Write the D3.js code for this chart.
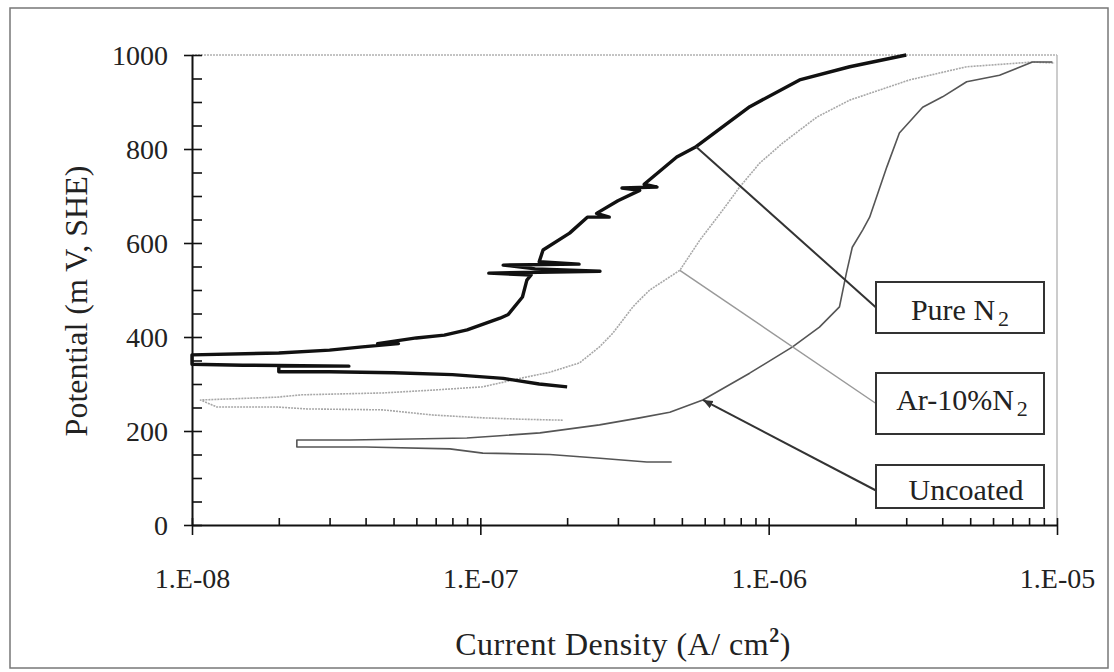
<!DOCTYPE html>
<html>
<head>
<meta charset="utf-8">
<script src="https://cdn.jsdelivr.net/npm/d3@7"></script>
<style>
  body { margin: 0; background: #fff; }
</style>
</head>
<body>
<div id="chart"></div>
<script>
// current density (A/cm2) and potential (mV SHE), cathodic branch first
const pureI = [2.0e-7, 1.6e-7, 1.2e-7, 8e-8, 5e-8, 3e-8, 2e-8, 2e-8, 3.5e-8, 1.5e-8, 1e-8,
  1e-8, 2.0e-8, 3.0e-8, 3.9e-8, 5.2e-8, 4.4e-8, 6.0e-8, 7.5e-8, 9.0e-8, 1.17e-7, 1.25e-7, 1.4e-7,
  1.45e-7, 1.5e-7, 1.07e-7, 2.6e-7, 1.55e-7, 1.2e-7, 2.2e-7, 1.6e-7, 1.65e-7, 2.04e-7, 2.35e-7,
  2.8e-7, 2.53e-7, 3.0e-7, 3.57e-7, 3.1e-7, 4.1e-7, 3.7e-7, 4.8e-7, 5.6e-7, 8.6e-7, 1.28e-6,
  1.91e-6, 3.0e-6];
const pureE = [294, 300, 312, 320, 324, 326, 326, 338, 338, 340, 342,
  362, 366, 372, 379, 386, 386, 398, 404, 415, 440, 448, 485,
  521, 532, 536, 540, 545, 553, 555, 560, 585, 621, 655,
  655, 663, 690, 712, 717, 719, 725, 783, 805, 890, 947,
  975, 1000];

const arI = [1.93e-7, 1.4e-7, 1.02e-7, 6.84e-8, 4.59e-8, 2.5e-8, 1.97e-8, 1.22e-8, 1.07e-8,
  1.97e-8, 2.4e-8, 4.59e-8, 6.84e-8, 1.02e-7, 1.4e-7, 1.74e-7, 2.21e-7, 2.59e-7, 2.88e-7,
  3.38e-7, 3.57e-7, 3.87e-7, 4.92e-7, 5.77e-7, 6.93e-7, 7.93e-7, 9.31e-7, 1.12e-6, 1.47e-6,
  1.91e-6, 3.08e-6, 4.86e-6, 8.22e-6, 9.8e-6];
const arE = [223, 225, 228, 234, 245, 247, 251, 251, 266,
  272, 277, 281, 287, 294, 313, 325, 345, 379, 408,
  464, 479, 500, 542, 606, 670, 719, 770, 813, 868,
  904, 947, 975, 985, 983];

const uncI = [4.61e-7, 3.78e-7, 2.6e-7, 1.74e-7, 1.02e-7, 7.84e-8, 4e-8, 2.31e-8,
  2.31e-8, 3.53e-8, 5.7e-8, 8.98e-8, 1.17e-7, 1.61e-7, 2.59e-7, 3.57e-7, 4.54e-7, 5.91e-7,
  8.59e-7, 1.21e-6, 1.5e-6, 1.76e-6, 1.86e-6, 1.95e-6, 2.12e-6, 2.24e-6, 2.57e-6, 2.84e-6,
  3.42e-6, 4.01e-6, 4.86e-6, 6.32e-6, 8.22e-6, 9.64e-6];
const uncE = [134, 134, 142, 150, 153, 162, 166, 166,
  181, 181, 183, 185, 190, 196, 213, 228, 240, 266,
  323, 379, 421, 464, 536, 591, 628, 655, 762, 834,
  889, 911, 943, 957, 985, 985];

const xTicks = [1e-8, 1e-7, 1e-6, 1e-5];
const xTickLabels = ["1.E-08", "1.E-07", "1.E-06", "1.E-05"];
const yTicks = [0, 200, 400, 600, 800, 1000];

// annotation points on each curve (current, potential)
const pureLabelPt = [5.6e-7, 805];
const arLabelPt = [4.92e-7, 542];
const uncLabelPt = [5.91e-7, 266];

const FONT = "Liberation Serif";

const W = 1114, H = 672;
const margin = {top: 55, right: 57, bottom: 147, left: 192};
const width = W - margin.left - margin.right,
      height = H - margin.top - margin.bottom;

const svg = d3.select("#chart").append("svg")
    .attr("width", W).attr("height", H);

svg.append("defs").append("marker")
    .attr("id", "arrow").attr("viewBox", "0 0 10 10")
    .attr("refX", 10).attr("refY", 5)
    .attr("markerWidth", 5).attr("markerHeight", 5)
    .attr("orient", "auto")
  .append("path").attr("d", "M0,1L10,5L0,9z").attr("fill", "#333");

// outer frame
svg.append("rect")
    .attr("x", 10).attr("y", 8).attr("width", 1098).attr("height", 660)
    .attr("fill", "none").attr("stroke", "#777").attr("stroke-width", 1.5);

const g = svg.append("g")
    .attr("transform", "translate(" + margin.left + "," + margin.top + ")");

const x = d3.scaleLog().domain([1e-8, 1e-5]).range([0, width]);
const y = d3.scaleLinear().domain([0, 1000]).range([height, 0]);

// plot area border (top / right)
g.append("line").attr("x1", 0).attr("x2", width).attr("y1", 0).attr("y2", 0)
    .attr("stroke", "#888").attr("stroke-width", 1).attr("stroke-dasharray", "2,1");
g.append("line").attr("x1", width).attr("x2", width).attr("y1", 0).attr("y2", height)
    .attr("stroke", "#bbb").attr("stroke-width", 1.5);

// y axis
const yMinor = d3.range(0, 1001, 50);
g.append("g")
    .call(d3.axisRight(y).tickValues(yMinor).tickSize(10).tickFormat(""))
    .call(a => a.select(".domain").remove());
const yAxis = g.append("g")
    .call(d3.axisLeft(y).tickValues(yTicks).tickSize(8).tickPadding(16)
      .tickFormat(d3.format("d")).tickSizeOuter(0));

// x axis
const xMinor = [];
xTicks.slice(0, 3).forEach(d => { for (let k = 2; k < 10; k++) xMinor.push(d * k); });
g.append("g")
    .attr("transform", "translate(0," + height + ")")
    .call(d3.axisTop(x).tickValues(xMinor.concat(xTicks)).tickSize(7).tickFormat(""))
    .call(a => a.select(".domain").remove());
const xAxis = g.append("g")
    .attr("transform", "translate(0," + height + ")")
    .call(d3.axisBottom(x).tickValues(xTicks).tickSize(10).tickPadding(33)
      .tickFormat((d, i) => xTickLabels[i]).tickSizeOuter(0));

g.selectAll(".tick text")
    .style("font-family", FONT)
    .style("font-size", "28px")
    .attr("fill", "#222");
yAxis.selectAll("text").attr("dy", "0.34em");

g.selectAll(".domain").attr("stroke", "#111").attr("stroke-width", 2);
g.selectAll(".tick line").attr("stroke", "#111").attr("stroke-width", 1.6);

// curves
const line = d3.line().x(d => x(d[0])).y(d => y(d[1]));
const series = [
  {I: arI, E: arE, color: "#a8a8a8", w: 1.6, dash: "2,1"},
  {I: uncI, E: uncE, color: "#555", w: 1.6, dash: null},
  {I: pureI, E: pureE, color: "#111", w: 3.4, dash: null}
];
series.forEach(s => {
  g.append("path")
      .datum(d3.zip(s.I, s.E))
      .attr("fill", "none")
      .attr("stroke", s.color)
      .attr("stroke-width", s.w)
      .attr("stroke-dasharray", s.dash)
      .attr("stroke-linejoin", "round")
      .attr("d", line);
});

// label boxes with leader lines
const boxX = 684, boxW = 168;
const labels = [
  {pt: pureLabelPt, y0: 227, h: 51, main: "Pure N", sub: "2", color: "#333", lw: 2, arrow: false, ty: 265, tx: 768},
  {pt: arLabelPt, y0: 318, h: 61, main: "Ar-10%N", sub: "2", color: "#999", lw: 1.5, arrow: false, ty: 355, tx: 770},
  {pt: uncLabelPt, y0: 410, h: 43, main: "Uncoated", sub: null, color: "#333", lw: 2, arrow: true, ty: 445, tx: 774}
];
labels.forEach(l => {
  const ly = l.y0 + l.h / 2;
  const ln = g.append("line")
      .attr("stroke", l.color).attr("stroke-width", l.lw);
  if (l.arrow) {
    ln.attr("x1", boxX).attr("y1", ly + 4)
      .attr("x2", x(l.pt[0])).attr("y2", y(l.pt[1]))
      .attr("marker-end", "url(#arrow)");
  } else {
    ln.attr("x1", x(l.pt[0])).attr("y1", y(l.pt[1]))
      .attr("x2", boxX).attr("y2", ly);
  }
  g.append("rect")
      .attr("x", boxX).attr("y", l.y0).attr("width", boxW).attr("height", l.h)
      .attr("fill", "#fff").attr("stroke", "#333").attr("stroke-width", 2);
  const t = g.append("text")
      .attr("x", l.tx).attr("y", l.ty)
      .attr("text-anchor", "middle")
      .style("font-family", FONT).style("font-size", "30px")
      .attr("fill", "#222");
  t.append("tspan").text(l.main);
  if (l.sub) t.append("tspan").attr("dy", 6).attr("dx", 3).style("font-size", "22px").text(l.sub);
});

// axis titles
svg.append("text")
    .attr("transform", "translate(87,301) rotate(-90)")
    .attr("text-anchor", "middle")
    .style("font-family", FONT).style("font-size", "32px")
    .attr("fill", "#222")
    .text("Potential (m V, SHE)");

const xt = svg.append("text")
    .attr("x", 623).attr("y", 655)
    .attr("text-anchor", "middle")
    .style("font-family", FONT).style("font-size", "32px")
    .style("letter-spacing", "0.5px")
    .attr("fill", "#222");
xt.append("tspan").text("Current Density (A/ cm");
xt.append("tspan").attr("dy", -13).style("font-size", "20px").style("font-weight", "bold").text("2");
xt.append("tspan").attr("dy", 13).text(")");
</script>
</body>
</html>
